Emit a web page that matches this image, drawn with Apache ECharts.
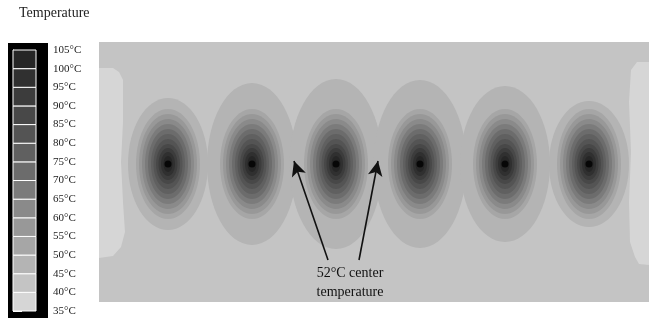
<!DOCTYPE html>
<html>
<head>
<meta charset="utf-8">
<script src="https://cdn.jsdelivr.net/npm/echarts@6/dist/echarts.min.js"></script>
<style>
html,body{margin:0;padding:0;background:#fff;}
#main{width:649px;height:320px;}
</style>
</head>
<body>
<div id="main"></div>
<script>
//温度场数据 (x: 0-550, y: 0-260, 以图框左下角为原点)
var legendLevels = [35, 40, 45, 50, 55, 60, 65, 70, 75, 80, 85, 90, 95, 100];
var sourceX = [69, 153, 237, 321, 406, 490];
var sourceY = 138;
var lobeRx = [40, 45, 46.5, 46.5, 45, 40];
var lobeRy = [66, 81, 85, 84, 78, 63];
var lobeTemp = 45;
var ringTemps = [50, 55, 60, 65, 70, 75, 80, 85, 90, 95, 100];
var ringRx = [32, 29, 26, 23, 20, 17, 14.5, 12, 9.5, 7, 4.5];
var ringRy = [55, 50, 45, 40, 35, 30, 25, 20, 16, 12, 8];
var edgeTemp = 35;
var leftEdge = [[0,234],[14,234],[20,230],[24,222],[24,180],[22,140],[24,100],[26,70],[22,55],[14,46],[0,44]];
var rightEdge = [[550,240],[538,240],[532,232],[530,200],[532,150],[530,100],[531,60],[536,45],[540,38],[550,37]];
var arrowFrom = [[229, 42], [260, 42]];
var arrowTo = [[195, 141], [279, 141]];

//灰度色带
var palette = {
	35:'#d6d6d6', 40:'#c4c4c4', 45:'#b4b4b4', 50:'#a6a6a6', 55:'#989898',
	60:'#8a8a8a', 65:'#7b7b7b', 70:'#6c6c6c', 75:'#606060', 80:'#545454',
	85:'#484848', 90:'#3c3c3c', 95:'#303030', 100:'#262626'
};
var serif = "'Liberation Serif','Times New Roman',serif";

var lobes = [];
var rings = [];
for (var i = 0; i < sourceX.length; i++) {
	lobes.push([sourceX[i], sourceY, lobeRx[i], lobeRy[i], lobeTemp]);
	for (var j = 0; j < ringTemps.length; j++) {
		rings.push([sourceX[i], sourceY, ringRx[j], ringRy[j], ringTemps[j]]);
	}
}
var edges = [leftEdge, rightEdge];

function renderEllipse(params, api) {
	var c = api.coord([api.value(0), api.value(1)]);
	var s = api.size([api.value(2), api.value(3)]);
	return {
		type: 'ellipse',
		shape: {cx: c[0], cy: c[1], rx: s[0], ry: s[1]},
		style: {fill: palette[api.value(4)]}
	};
}

function renderEdge(params, api) {
	var pts = edges[api.value(0)].map(function (p) { return api.coord(p); });
	return {type: 'polygon', shape: {points: pts}, style: {fill: palette[edgeTemp]}};
}

function renderBox(params, api) {
	var lo = api.value(0);
	var top = api.coord([0, lo + 5]);
	var bottom = api.coord([0, lo]);
	var cs = params.coordSys;
	return {
		type: 'rect',
		shape: {x: cs.x, y: top[1], width: cs.width, height: bottom[1] - top[1]},
		style: {fill: palette[lo], stroke: '#ffffff', lineWidth: 1}
	};
}

var chart = echarts.init(document.getElementById('main'));
var option = {
	animation: false,
	graphic: [
		{type: 'text', left: 19, top: 6, style: {text: 'Temperature', font: '14px ' + serif, fill: '#222'}},
		{type: 'rect', left: 8, top: 43, shape: {width: 40, height: 275}, style: {fill: '#000'}, z: -1},
		{type: 'text', x: 350, y: 273, style: {text: '52°C center', font: '14px ' + serif, fill: '#111', align: 'center', verticalAlign: 'middle'}, z: 10},
		{type: 'text', x: 350, y: 292, style: {text: 'temperature', font: '14px ' + serif, fill: '#111', align: 'center', verticalAlign: 'middle'}, z: 10}
	],
	grid: [
		{left: 99, top: 42, width: 550, height: 260, show: true, backgroundColor: palette[40], borderWidth: 0},
		{left: 13, top: 50, width: 23, height: 261}
	],
	xAxis: [
		{gridIndex: 0, type: 'value', min: 0, max: 550, show: false},
		{gridIndex: 1, type: 'value', min: 0, max: 1, show: false}
	],
	yAxis: [
		{gridIndex: 0, type: 'value', min: 0, max: 260, show: false},
		{
			gridIndex: 1, type: 'value', min: 35, max: 105, interval: 5, position: 'right',
			axisLine: {show: true, lineStyle: {color: '#ffffff'}},
			axisTick: {show: true, length: 9, lineStyle: {color: '#ffffff'}},
			splitLine: {show: false},
			axisLabel: {margin: 17, formatter: '{value}°C', fontFamily: serif, fontSize: 11, color: '#222'}
		}
	],
	series: [
		{type: 'custom', xAxisIndex: 0, yAxisIndex: 0, z: 1, silent: true, renderItem: renderEdge, data: [[0], [1]]},
		{type: 'custom', xAxisIndex: 0, yAxisIndex: 0, z: 2, silent: true, renderItem: renderEllipse, data: lobes},
		{type: 'custom', xAxisIndex: 0, yAxisIndex: 0, z: 3, silent: true, renderItem: renderEllipse, data: rings},
		{
			type: 'scatter', xAxisIndex: 0, yAxisIndex: 0, z: 4, silent: true, symbolSize: 7,
			itemStyle: {color: '#000'},
			data: sourceX.map(function (x) { return [x, sourceY]; }),
			markLine: {
				silent: true, symbol: ['none', 'arrow'], symbolSize: [11, 15],
				lineStyle: {color: '#111', width: 1.6, type: 'solid'},
				label: {show: false},
				data: arrowFrom.map(function (p, k) { return [{coord: p}, {coord: arrowTo[k]}]; })
			}
		},
		{
			type: 'custom', xAxisIndex: 1, yAxisIndex: 1, silent: true, renderItem: renderBox,
			data: legendLevels.map(function (v) { return [v]; })
		}
	]
};
chart.setOption(option);
</script>
</body>
</html>
